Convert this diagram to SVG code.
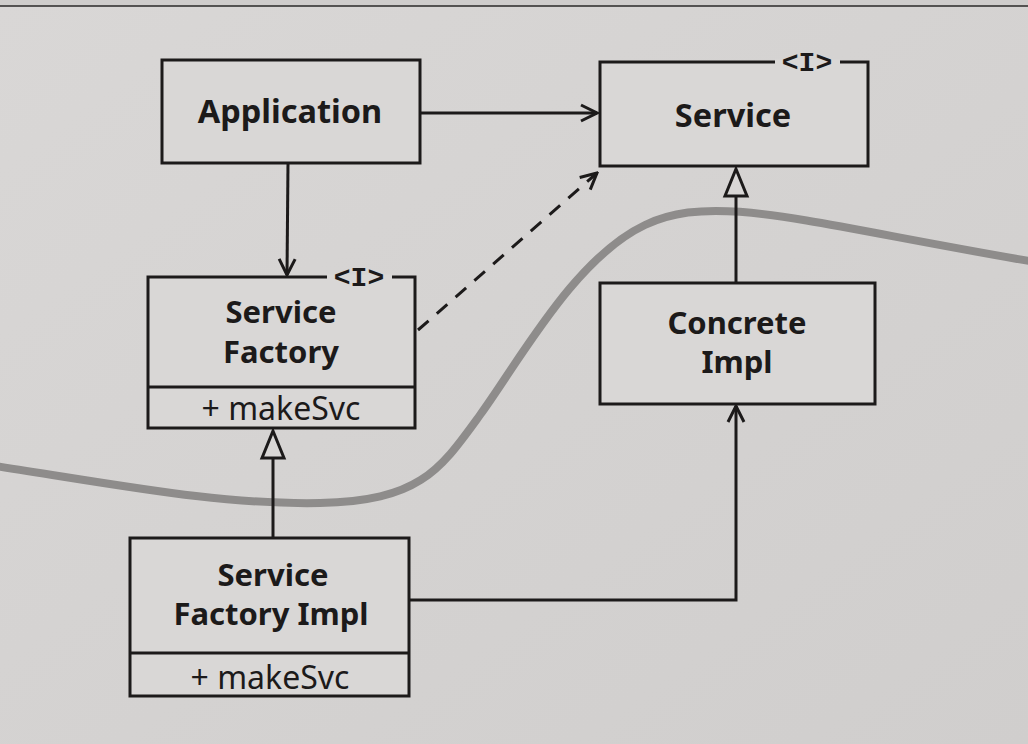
<svg xmlns="http://www.w3.org/2000/svg" width="1028" height="744" viewBox="0 0 1028 744">
<defs>
<style>
.box{fill:#d9d7d6;stroke:#1c1a1a;stroke-width:3}
.ln{fill:none;stroke:#1c1a1a;stroke-width:3}
.t{font-family:"Noto Sans","Open Sans",sans-serif;font-weight:bold;font-size:31px;fill:#1c1a1a;text-anchor:middle}
.t1{font-size:32.5px}
.m{font-family:"Noto Sans","Open Sans",sans-serif;font-size:32px;fill:#1c1a1a;text-anchor:middle}
.i{font-family:"Liberation Mono","DejaVu Sans Mono",monospace;font-weight:bold;font-size:28px;fill:#1c1a1a;text-anchor:middle}
</style>
<linearGradient id="bg" x1="0" y1="0" x2="1" y2="1">
<stop offset="0" stop-color="#d9d7d6"/>
<stop offset="1" stop-color="#d0cecd"/>
</linearGradient>
<marker id="open" viewBox="0 0 20 20" refX="18" refY="10" markerWidth="20" markerHeight="20" markerUnits="userSpaceOnUse" orient="auto">
<path d="M2,2 L18,10 L2,18" fill="none" stroke="#1c1a1a" stroke-width="3"/>
</marker>
</defs>
<rect width="1028" height="744" fill="url(#bg)"/>
<rect width="1028" height="6" fill="#cfcdcc"/>
<line x1="0" y1="6" x2="1028" y2="6" stroke="#2a2828" stroke-width="1.5"/>
<path d="M-5,466 C120,485 220,505 320,503 S440,470 480,415 S575,258 645,225 S800,222 1035,262" fill="none" stroke="#8e8c8b" stroke-width="8"/>
<g id="connectors">
<line class="ln" x1="420" y1="113" x2="597" y2="113" marker-end="url(#open)"/>
<line class="ln" x1="288" y1="163" x2="287" y2="275" marker-end="url(#open)"/>
<line class="ln" x1="418" y1="330" x2="597" y2="173" stroke-dasharray="14,11" marker-end="url(#open)"/>
<line class="ln" x1="273" y1="538" x2="273" y2="458"/>
<path d="M273,431 L284,458 L262,458 Z" fill="#d9d7d6" stroke="#1c1a1a" stroke-width="3"/>
<line class="ln" x1="736" y1="283" x2="736" y2="196"/>
<path d="M736,169 L747,196 L725,196 Z" fill="#d9d7d6" stroke="#1c1a1a" stroke-width="3"/>
<polyline class="ln" points="409,600 736,600 736,406" marker-end="url(#open)"/>
</g>
<g id="application">
<rect class="box" x="162" y="60" width="258" height="103"/>
<text class="t t1" x="290" y="123">Application</text>
</g>
<g id="service">
<rect class="box" x="600" y="62" width="268" height="104"/>
<line x1="775" y1="62" x2="840" y2="62" stroke="#d9d7d6" stroke-width="5"/>
<text class="i" x="807" y="71">&lt;I&gt;</text>
<text class="t t1" x="733" y="127">Service</text>
</g>
<g id="service-factory">
<rect class="box" x="148" y="277" width="267" height="151"/>
<line class="ln" x1="148" y1="387" x2="415" y2="387"/>
<line x1="327" y1="277" x2="392" y2="277" stroke="#d9d7d6" stroke-width="5"/>
<text class="i" x="359" y="286">&lt;I&gt;</text>
<text class="t" x="281" y="323">Service</text>
<text class="t" x="281" y="363">Factory</text>
<text class="m" x="281" y="420">+ makeSvc</text>
</g>
<g id="concrete-impl">
<rect class="box" x="600" y="283" width="275" height="121"/>
<text class="t" x="737" y="334">Concrete</text>
<text class="t" x="737" y="373">Impl</text>
</g>
<g id="service-factory-impl">
<rect class="box" x="130" y="538" width="279" height="158"/>
<line class="ln" x1="130" y1="653" x2="409" y2="653"/>
<text class="t" x="273" y="586">Service</text>
<text class="t" x="271" y="625">Factory Impl</text>
<text class="m" x="270" y="689">+ makeSvc</text>
</g>
</svg>
